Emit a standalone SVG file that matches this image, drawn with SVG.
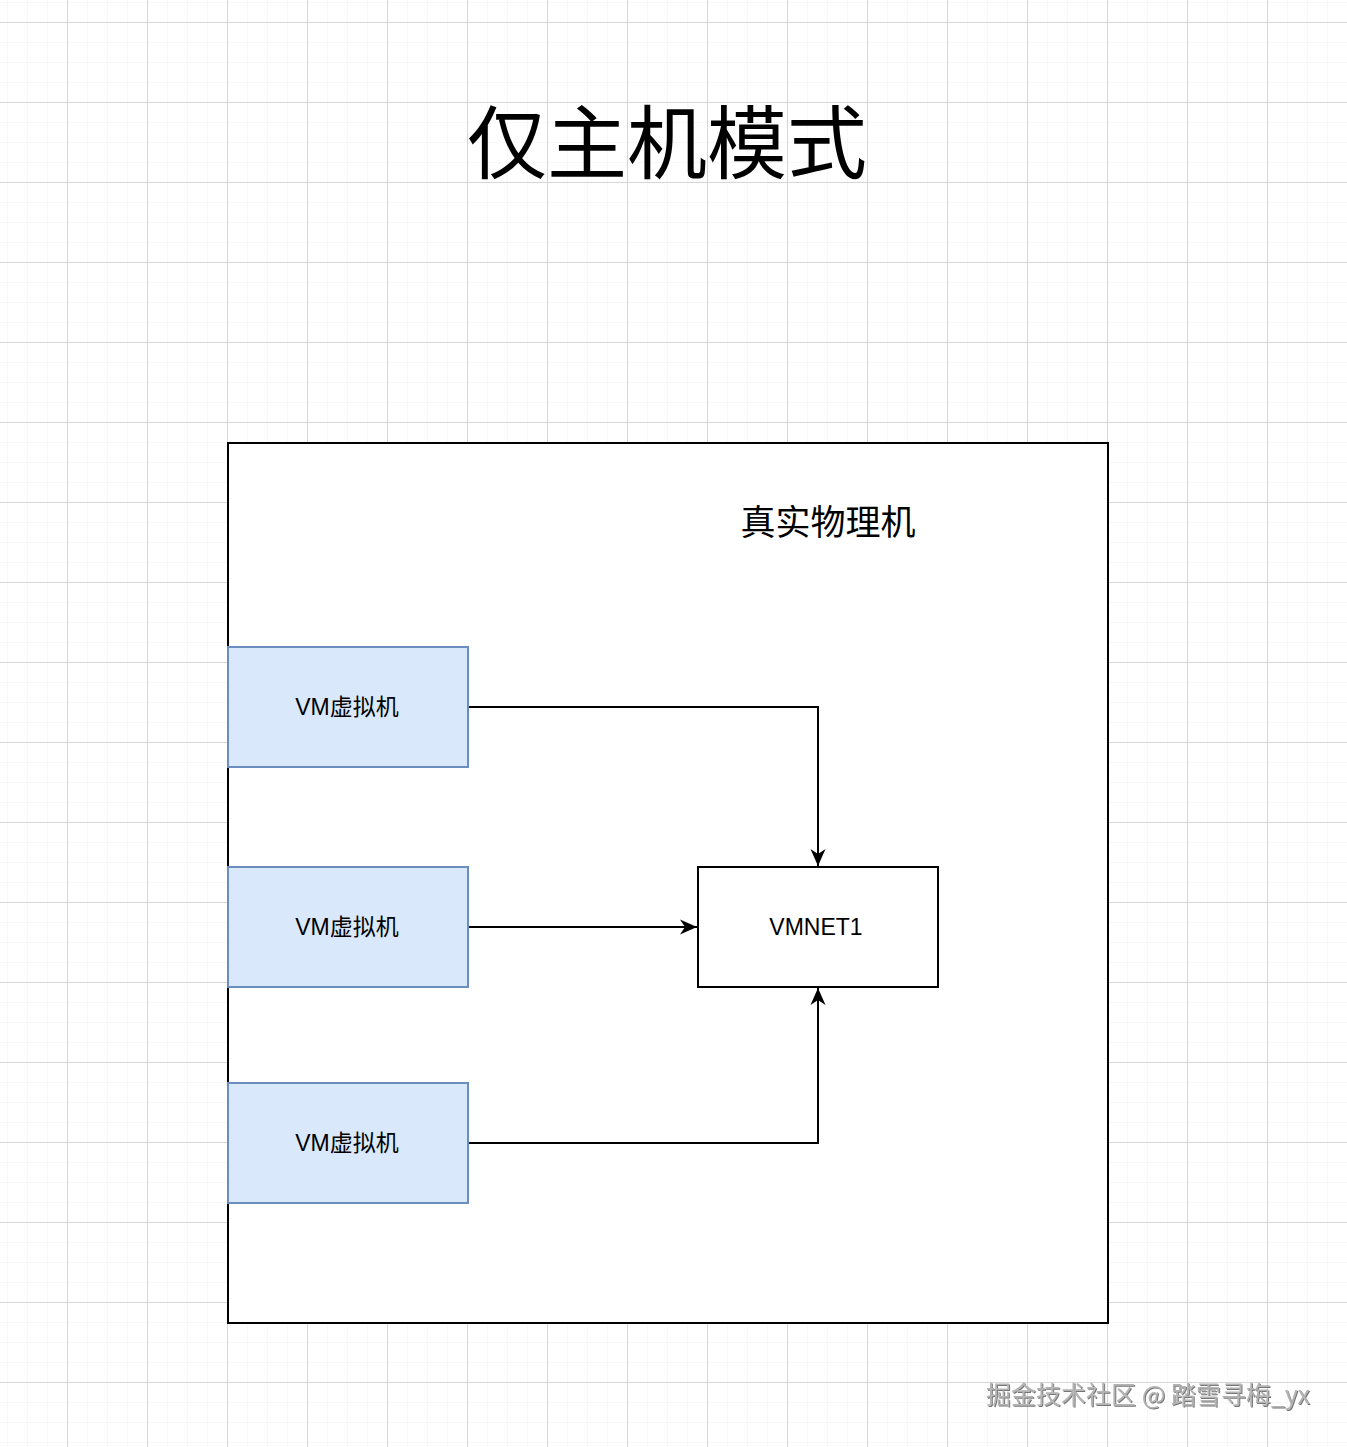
<svg xmlns="http://www.w3.org/2000/svg" width="1347" height="1447" viewBox="0 0 1347 1447">
  <defs>
    <pattern id="minor" x="7" y="2" width="20" height="20" patternUnits="userSpaceOnUse">
      <path d="M0,0 H20 M0,0 V20" fill="none" stroke="#f1f1f1" stroke-width="1"/>
    </pattern>
    <pattern id="major" x="67" y="22" width="80" height="80" patternUnits="userSpaceOnUse">
      <path d="M0,0.5 H80 M0.5,0 V80" fill="none" stroke="#d6d6d6" stroke-width="1"/>
    </pattern>
    <marker id="arrow" viewBox="-18 -9 19 18" refX="0" refY="0" markerWidth="19" markerHeight="18" markerUnits="userSpaceOnUse" orient="auto">
      <path d="M0,0 L-17,-7.5 L-12,0 L-17,7.5 Z" fill="#000"/>
    </marker>
    <filter id="shadow" x="-5%" y="-20%" width="110%" height="140%">
      <feDropShadow dx="1" dy="1" stdDeviation="0.6" flood-color="#555" flood-opacity="0.8"/>
    </filter>
  </defs>
  <style>
    .vm { fill: #dae8fc; stroke: #6c8ebf; stroke-width: 2; }
    .plain { fill: #ffffff; stroke: #000000; stroke-width: 2; }
    .label { font-family: "Liberation Sans", "Noto Sans CJK SC", sans-serif; font-size: 23px; fill: #000; text-anchor: middle; dominant-baseline: central; }
    .edge { fill: none; stroke: #000; stroke-width: 2; }
  </style>
  <rect width="1347" height="1447" fill="#ffffff"/>
  <rect width="1347" height="1447" fill="url(#minor)"/>
  <rect width="1347" height="1447" fill="url(#major)"/>

  <g id="title">
    <text x="667" y="137" font-family="'Noto Sans CJK SC', sans-serif" font-size="80" text-anchor="middle" dominant-baseline="central" fill="#000">仅主机模式</text>
  </g>

  <g id="host">
    <rect class="plain" x="228" y="443" width="880" height="880"/>
    <text x="828" y="519" font-family="'Noto Sans CJK SC', sans-serif" font-size="35" text-anchor="middle" dominant-baseline="central" fill="#000">真实物理机</text>
  </g>

  <g id="vm1">
    <rect class="vm" x="228" y="647" width="240" height="120"/>
    <text class="label" x="347" y="707">VM虚拟机</text>
  </g>
  <g id="vm2">
    <rect class="vm" x="228" y="867" width="240" height="120"/>
    <text class="label" x="347" y="927">VM虚拟机</text>
  </g>
  <g id="vm3">
    <rect class="vm" x="228" y="1083" width="240" height="120"/>
    <text class="label" x="347" y="1143">VM虚拟机</text>
  </g>
  <g id="vmnet1">
    <rect class="plain" x="698" y="867" width="240" height="120"/>
    <text class="label" x="816" y="927">VMNET1</text>
  </g>

  <g id="connectors">
    <path class="edge" d="M469,707 H818 V866" marker-end="url(#arrow)"/>
    <path class="edge" d="M469,927 H697" marker-end="url(#arrow)"/>
    <path class="edge" d="M469,1143 H818 V988" marker-end="url(#arrow)"/>
  </g>

  <g id="watermark">
    <text x="1148" y="1393" font-family="'Noto Sans CJK SC', sans-serif" font-size="25" text-anchor="middle" dominant-baseline="central" fill="#b4b4b4" filter="url(#shadow)">掘金技术社区 @ 踏雪寻梅_yx</text>
  </g>
</svg>
